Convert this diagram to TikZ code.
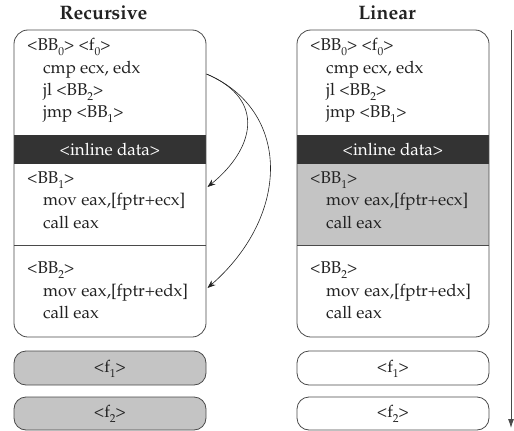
\documentclass[tikz,border=0pt]{standalone}
\usepackage[T1]{fontenc}
\usepackage{mathpazo}
\usetikzlibrary{arrows.meta}
\definecolor{band}{HTML}{333333}
\definecolor{greyfill}{HTML}{C4C4C4}
\definecolor{edge}{HTML}{4A4A4A}
\definecolor{ink}{HTML}{222222}
\newcommand{\lsub}[1]{\raisebox{-0.32em}{\fontsize{11.5}{11.5}\selectfont #1}}
\begin{document}
\begin{tikzpicture}[x=1pt,y=-1pt,
  txt/.style={anchor=base west, inner sep=0pt, font=\fontsize{17}{20}\selectfont, text=ink},
  ctxt/.style={anchor=base, inner sep=0pt, font=\fontsize{17}{20}\selectfont, text=ink},
  title/.style={anchor=base, inner sep=0pt, font=\fontsize{19.5}{22}\selectfont\bfseries, text=ink},
  boxline/.style={draw=edge, line width=0.8pt},
  jumparrow/.style={draw=ink, line width=0.6pt, -{Stealth[length=8pt,width=6pt]}},
  timearrow/.style={draw=edge, line width=0.8pt, -{Latex[length=9pt,width=6pt]}}
]
\useasboundingbox (0,0) rectangle (514,431);

% titles
\node[title] (tR) at (103.5,19.5) {Recursive};
\node[title] (tL) at (387,19.5) {Linear};

\foreach \dx/\s in {0/L,283/R}{
  \fill[white, rounded corners=14pt] (14+\dx,30) rectangle (206+\dx,337);
  \fill[band] (14+\dx,135) rectangle (206+\dx,164);
}
\fill[greyfill] (297,164) rectangle (489,245.5);
\foreach \dx/\s in {0/L,283/R}{
  \draw[boxline, rounded corners=14pt] (14+\dx,30) rectangle (206+\dx,337);
  \draw[boxline] (14+\dx,245.5) -- (206+\dx,245.5);
  \node[txt] (bb0\s) at (27+\dx,50) {<BB\lsub{0}> <f\lsub{0}>};
  \node[txt] (cmp\s) at (43+\dx,73) {cmp ecx, edx};
  \node[txt] (jl\s) at (43+\dx,95) {jl <BB\lsub{2}>};
  \node[txt] (jmp\s) at (43+\dx,117) {jmp <BB\lsub{1}>};
  \node[ctxt, text=white] (inl\s) at (110+\dx,155) {<inline data>};
  \node[txt] (bb1\s) at (27+\dx,183) {<BB\lsub{1}>};
  \node[txt] (mov1\s) at (43+\dx,205.5) {mov eax,[fptr+ecx]};
  \node[txt] (call1\s) at (43+\dx,228) {call eax};
  \node[txt] (bb2\s) at (27+\dx,273) {<BB\lsub{2}>};
  \node[txt] (mov2\s) at (43+\dx,296) {mov eax,[fptr+edx]};
  \node[txt] (call2\s) at (43+\dx,318.5) {call eax};
}
% function boxes
\foreach \dx/\s/\c in {0/L/greyfill,283/R/white}{
  \draw[boxline, fill=\c, rounded corners=12pt] (14+\dx,351) rectangle (206+\dx,385);
  \draw[boxline, fill=\c, rounded corners=12pt] (14+\dx,397) rectangle (206+\dx,430);
  \node[ctxt] (f1\s) at (110+\dx,372) {<f\lsub{1}>};
  \node[ctxt] (f2\s) at (110+\dx,417.5) {<f\lsub{2}>};
}

% jump arrows
\coordinate (src) at (206.5,74);
\coordinate (tgt1) at (207.5,187);
\coordinate (tgt2) at (207.5,288);
\draw[jumparrow] (src) .. controls (268,100) and (253,150) .. (tgt1);
\draw[jumparrow] (src) .. controls (291,110) and (291,215) .. (tgt2);

% time arrow
\coordinate (ta) at (511,30);
\coordinate (tb) at (511,428);
\draw[timearrow] (ta) -- (tb);
\end{tikzpicture}
\end{document}
